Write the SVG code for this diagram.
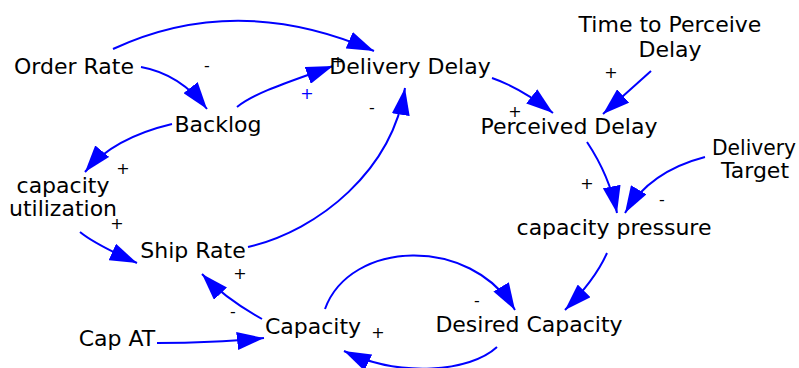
<svg xmlns="http://www.w3.org/2000/svg" width="799" height="368" viewBox="0 0 799 368">
<defs>
<marker id="ah" markerUnits="userSpaceOnUse" markerWidth="27" markerHeight="18" refX="27" refY="9" orient="auto">
<path d="M0,0 L27,9 L0,18 z" fill="#0000ff"/>
</marker>
<style>
.lnk{fill:none;stroke:#0000ff;stroke-width:2;marker-end:url(#ah)}
.nd{font-family:"DejaVu Sans",Verdana,sans-serif;font-size:22px;fill:#000;text-anchor:middle}
.pol{font-family:"DejaVu Sans",Verdana,sans-serif;font-size:16px;fill:#000;text-anchor:middle;dominant-baseline:central}
.blue{fill:#0000ff}
</style>
</defs>
<rect width="799" height="368" fill="#fff"/>
<g id="connectors">
<path class="lnk" d="M113,49 Q237,-8.5 374,51"/>
<path class="lnk" d="M141,67 Q180,74 207,109"/>
<path class="lnk" d="M237,107 C255,92 295,80 333,66"/>
<path class="lnk" d="M248,247 C320,230 392,170 405,88"/>
<path class="lnk" d="M492,78 Q521,88 553,113"/>
<path class="lnk" d="M651,71 L603,114"/>
<path class="lnk" d="M172,124 Q113,138 85,172"/>
<path class="lnk" d="M80,232 Q94.5,244 137,263"/>
<path class="lnk" d="M587,142 Q609.6,176 617,213"/>
<path class="lnk" d="M705,157 Q649.5,171.4 625,213"/>
<path class="lnk" d="M607,253 Q595,280 565,310"/>
<path class="lnk" d="M325,309 C350,240 470,235 515,310"/>
<path class="lnk" d="M497,347 C470,372 400,378 344,351"/>
<path class="lnk" d="M262,319 Q225,298.4 202,274"/>
<path class="lnk" d="M157,343 Q220,343 264,338"/>
</g>
<g id="polarities">
<text class="pol" x="207" y="65">-</text>
<text class="pol blue" x="307" y="93">+</text>
<text class="pol" x="338" y="61">+</text>
<text class="pol" x="372" y="107">-</text>
<text class="pol" x="611" y="72">+</text>
<text class="pol" x="515" y="111">+</text>
<text class="pol" x="123" y="168">+</text>
<text class="pol" x="117" y="223">+</text>
<text class="pol" x="587" y="183">+</text>
<text class="pol" x="662" y="199">-</text>
<text class="pol" x="240" y="273">+</text>
<text class="pol" x="233" y="311">-</text>
<text class="pol" x="477" y="300">-</text>
<text class="pol" x="378" y="332">+</text>
</g>
<g id="order-rate"><text class="nd" x="74" y="74">Order Rate</text></g>
<g id="delivery-delay"><text class="nd" x="410" y="74">Delivery Delay</text></g>
<g id="time-to-perceive-delay"><text class="nd" x="670" y="32">Time to Perceive</text><text class="nd" x="670" y="57">Delay</text></g>
<g id="perceived-delay"><text class="nd" x="569" y="134">Perceived Delay</text></g>
<g id="backlog"><text class="nd" x="218" y="132">Backlog</text></g>
<g id="capacity-utilization"><text class="nd" x="63" y="193">capacity</text><text class="nd" x="63" y="216">utilization</text></g>
<g id="ship-rate"><text class="nd" x="193" y="258">Ship Rate</text></g>
<g id="delivery-target"><text class="nd" x="754" y="155" textLength="84" lengthAdjust="spacingAndGlyphs">Delivery</text><text class="nd" x="755" y="178">Target</text></g>
<g id="capacity-pressure"><text class="nd" x="614" y="235">capacity pressure</text></g>
<g id="cap-at"><text class="nd" x="117" y="346">Cap AT</text></g>
<g id="capacity"><text class="nd" x="313" y="334">Capacity</text></g>
<g id="desired-capacity"><text class="nd" x="529" y="332">Desired Capacity</text></g>
</svg>
